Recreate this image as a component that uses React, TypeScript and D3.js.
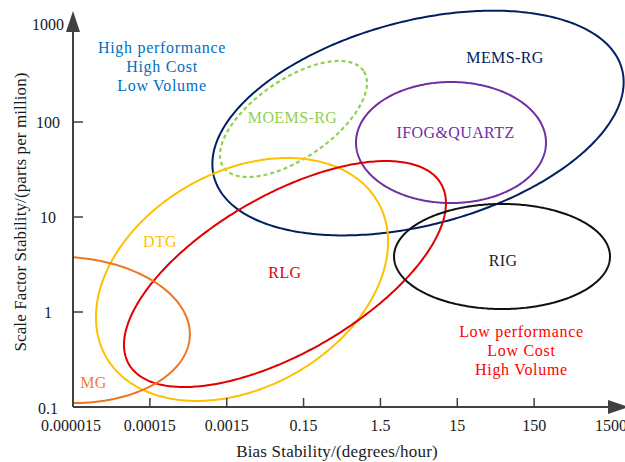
import React from "react";
import * as d3 from "d3";

// ---- data ----
const xTickLabels = ["0.000015", "0.00015", "0.0015", "0.15", "1.5", "15", "150", "1500"];
const yTickValues = [0.1, 1, 10, 100, 1000];

const regionNames = ["MEMS-RG", "MOEMS-RG", "IFOG&QUARTZ", "DTG", "RLG", "MG", "RIG"];
// centre of each region: bias stability (tick index, one decade per tick) and scale factor (ppm)
const regionCenterX = [4.489, 2.869, 4.918, 2.199, 2.758, -0.091, 5.582];
const regionCenterY = [97.5, 107.6, 60.8, 2.2, 2.51, 0.647, 3.84];
// semi-axis vectors of each region, in decades [bias, scale factor]
const regionAxisA = [
  [2.654, 0.567],
  [0.911, 0.507],
  [1.236, 0],
  [1.769, 0.814],
  [2.031, 0.949],
  [1.611, -0.068],
  [1.405, 0],
];
const regionAxisB = [
  [-0.339, 1.038],
  [-0.29, 0.341],
  [0, 0.637],
  [-0.694, 0.986],
  [-0.512, 0.717],
  [0.0497, 0.767],
  [0, 0.553],
];
const regionLabelX = [5.621, 2.856, 4.977, 1.132, 2.758, 0.267, 5.595];
const regionLabelY = [477, 111, 77.4, 5.52, 2.61, 0.181, 3.48];
const regionColors = ["#002060", "#92D050", "#7030A0", "#FFC000", "#E00000", "#ED7622", "#111111"];
const regionLabelColors = ["#002060", "#92D050", "#7030A0", "#FFC000", "#E00000", "#F08030", "#222222"];
const regionDashed = [false, true, false, false, false, false, false];

const highNoteLines = ["High performance", "High Cost", "Low Volume"];
const highNoteX = 1.158;
const highNoteY = 384;
const lowNoteLines = ["Low performance", "Low Cost", "High Volume"];
const lowNoteX = 5.835;
const lowNoteY = 0.394;

const xTitle = "Bias Stability/(degrees/hour)";
const yTitle = "Scale Factor Stability/(parts per million)";

// ---- layout ----
const W = 625;
const H = 462;
const X0 = 73;
const Y0 = 407;
const FONT = "'Liberation Serif', 'Times New Roman', serif";
const AXIS = "#404040";

export default function App() {
  const x = d3.scaleLinear().domain([0, 7]).range([X0, 611]);
  const y = d3.scaleLog().domain([0.1, 1000]).range([Y0, 27]);

  const ts = d3.range(360).map((i) => (i / 360) * 2 * Math.PI);

  const paths = regionNames.map((name, i) => {
    const cx = regionCenterX[i];
    const cy = Math.log10(regionCenterY[i]);
    const A = regionAxisA[i];
    const B = regionAxisB[i];
    const line = d3
      .line<number>()
      .x((t) => x(cx + Math.cos(t) * A[0] + Math.sin(t) * B[0]))
      .y((t) => y(Math.pow(10, cy + Math.cos(t) * A[1] + Math.sin(t) * B[1])))
      .curve(d3.curveLinearClosed);
    return line(ts) as string;
  });

  const tick = 9;

  return (
    <svg
      width={W}
      height={H}
      style={{ position: "absolute", left: 0, top: 0, background: "#fff" }}
      fontFamily={FONT}
    >
      <defs>
        <clipPath id="plot">
          <rect x={X0} y={0} width={W - X0} height={Y0} />
        </clipPath>
      </defs>

      {/* regions */}
      <g clipPath="url(#plot)">
        {paths.map((d, i) => (
          <path
            key={regionNames[i]}
            d={d}
            fill="none"
            stroke={regionColors[i]}
            strokeWidth={regionDashed[i] ? 2.2 : 2}
            strokeDasharray={regionDashed[i] ? "4 3" : undefined}
          />
        ))}
      </g>

      {/* region labels */}
      {regionNames.map((name, i) => (
        <text
          key={"l" + name}
          x={x(regionLabelX[i])}
          y={y(regionLabelY[i])}
          dy="0.35em"
          textAnchor="middle"
          fontSize={16}
          letterSpacing={0.4}
          fill={regionLabelColors[i]}
        >
          {name}
        </text>
      ))}

      {/* corner notes */}
      {highNoteLines.map((s, i) => (
        <text
          key={"h" + i}
          x={x(highNoteX)}
          y={y(highNoteY) + (i - 1) * 19}
          dy="0.35em"
          textAnchor="middle"
          fontSize={16}
          letterSpacing={0.7}
          fill="#0070C0"
        >
          {s}
        </text>
      ))}
      {lowNoteLines.map((s, i) => (
        <text
          key={"lo" + i}
          x={x(lowNoteX)}
          y={y(lowNoteY) + (i - 1) * 19}
          dy="0.35em"
          textAnchor="middle"
          fontSize={16}
          letterSpacing={0.7}
          fill="#FF0000"
        >
          {s}
        </text>
      ))}

      {/* x axis */}
      <g>
        {xTickLabels.map((lab, i) => (
          <g key={"xt" + i}>
            {i > 0 && i < xTickLabels.length - 1 && (
              <line x1={x(i)} x2={x(i)} y1={Y0} y2={Y0 - tick} stroke={AXIS} strokeWidth={1.5} />
            )}
            <text x={x(i) - (i === 0 ? 2 : 0)} y={Y0 + 24} textAnchor="middle" fontSize={16} fill="#1a1a1a">
              {lab}
            </text>
          </g>
        ))}
        <line x1={X0} x2={610} y1={Y0} y2={Y0} stroke={AXIS} strokeWidth={2} />
        <polygon points={`608,${Y0 - 7} 629,${Y0} 608,${Y0 + 7}`} fill={AXIS} />
      </g>

      {/* y axis */}
      <g>
        {yTickValues.map((v, i) => (
          <g key={"yt" + i}>
            {i > 0 && i < yTickValues.length - 1 && (
              <line x1={X0} x2={X0 + tick + 1} y1={y(v)} y2={y(v)} stroke={AXIS} strokeWidth={1.5} />
            )}
            <text
              x={48}
              y={y(v) + (i === 0 ? 1 : i === yTickValues.length - 1 ? -3 : 0)}
              dy="0.35em"
              textAnchor="middle"
              fontSize={16}
              fill="#1a1a1a"
            >
              {v}
            </text>
          </g>
        ))}
        <line x1={X0} x2={X0} y1={Y0} y2={30} stroke={AXIS} strokeWidth={2} />
        <polygon points={`${X0 - 7},32 ${X0},11 ${X0 + 7},32`} fill={AXIS} />
      </g>

      {/* axis titles */}
      <text x={337} y={457} textAnchor="middle" fontSize={17} letterSpacing={0.2} fill="#1a1a1a">
        {xTitle}
      </text>
      <text
        transform={`translate(26,212) rotate(-90)`}
        textAnchor="middle"
        fontSize={17}
        letterSpacing={0.1}
        fill="#1a1a1a"
      >
        {yTitle}
      </text>
    </svg>
  );
}
